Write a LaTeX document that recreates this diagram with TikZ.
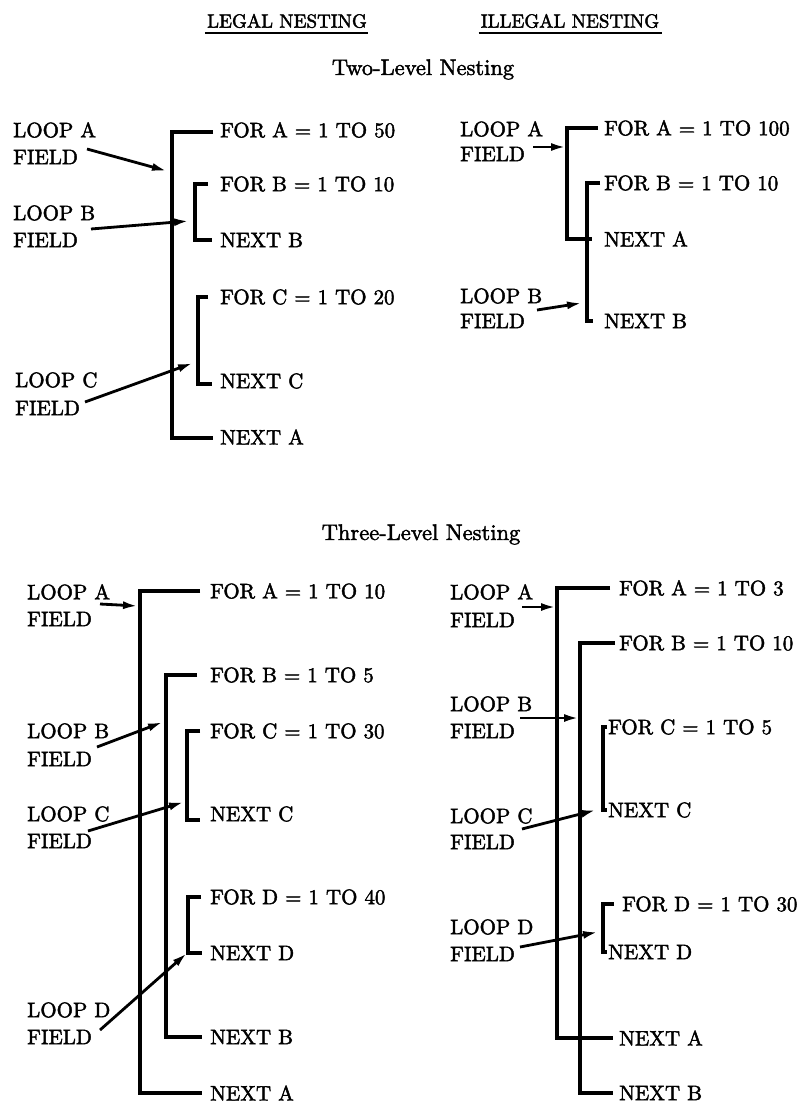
\documentclass[tikz,border=0pt]{standalone}
\usepackage{fontspec}
\usetikzlibrary{arrows.meta}
\newfontfamily\lmheavy{lmroman10-regular.otf}[FakeBold=2]
\newcommand\bodyfont{\lmheavy\fontsize{21}{25}\selectfont}
\newcommand\headfont{\lmheavy\fontsize{19}{23}\selectfont}
\newcommand\titlefont{\lmheavy\fontsize{22.5}{26}\selectfont}
% bracket: top node, bottom node, top gap, bottom gap, x coordinate
\newcommand\brkt[5]{\draw[brk] ([xshift=-#3pt]#1.west) -- (#1.west -| #5) -- (#2.west -| #5) -- ([xshift=-#4pt]#2.west);}
\begin{document}
\begin{tikzpicture}[x=1pt,y=-1pt,
  lbl/.style={anchor=west,inner sep=0pt,font=\bodyfont},
  brk/.style={line width=3.2pt},
  arr/.style={line width=2.8pt,-{Latex[length=15pt,width=8pt]}},
  hdr/.style={inner sep=0pt,font=\headfont},
  ttl/.style={anchor=base,inner sep=0pt,font=\titlefont},
  uline/.style={line width=2.4pt}]
\useasboundingbox (0,0) rectangle (807,1107);

% headers
\node[hdr] (hL) at (287,21) {LEGAL NESTING};
\node[hdr] (hI) at (570,21) {ILLEGAL NESTING};
\draw[uline] ([yshift=-5pt,xshift=-2pt]hL.south west) -- ([yshift=-5pt,xshift=1pt]hL.south east);
\draw[uline] ([yshift=-5pt,xshift=-2pt]hI.south west) -- ([yshift=-5pt,xshift=3pt]hI.south east);
\node[ttl] (t2) at (423,75) {Two-Level Nesting};
\node[ttl] (t3) at (421,540) {Three-Level Nesting};

% ---------- Two-level, legal ----------
\node[lbl] (aLA1) at (13,130) {LOOP A};
\node[lbl] (aLA2) at (13,157) {FIELD};
\node[lbl] (aLB1) at (13,213) {LOOP B};
\node[lbl] (aLB2) at (13,240) {FIELD};
\node[lbl] (aLC1) at (15,380) {LOOP C};
\node[lbl] (aLC2) at (15,408) {FIELD};
\node[lbl] (aFA) at (220,130) {FOR A = 1 TO 50};
\node[lbl] (aFB) at (220,184) {FOR B = 1 TO 10};
\node[lbl] (aNB) at (220,240) {NEXT B};
\node[lbl] (aFC) at (220,297) {FOR C = 1 TO 20};
\node[lbl] (aNC) at (220,381) {NEXT C};
\node[lbl] (aNA) at (220,437) {NEXT A};
\coordinate (aXA) at (172,0);
\coordinate (aXB) at (195,0);
\coordinate (aXC) at (198,0);
\draw[brk] ([xshift=-7pt,yshift=-2pt]aFA.west) -- ([yshift=-2pt]aFA.west -| aXA) -- ([yshift=-1pt]aNA.west -| aXA) -- ([xshift=-7pt,yshift=-1pt]aNA.west);
\brkt{aFB}{aNB}{12}{8}{aXB}
\draw[brk] ([xshift=-12pt]aFC.west) -- (aFC.west -| aXC) -- ([yshift=-3pt]aNC.west -| aXC) -- ([xshift=-8pt,yshift=-3pt]aNC.west);
\coordinate (aAs) at (87,149);  \coordinate (aAt) at (167,171);
\coordinate (aBs) at (91,229);  \coordinate (aBt) at (189,221);
\coordinate (aCs) at (85,402);  \coordinate (aCt) at (193,363);
\draw[arr] (aAs) -- (aAt);
\draw[arr] (aBs) -- (aBt);
\draw[arr] (aCs) -- (aCt);

% ---------- Two-level, illegal ----------
\node[lbl] (bLA1) at (460,129) {LOOP A};
\node[lbl] (bLA2) at (460,154) {FIELD};
\node[lbl] (bLB1) at (460,296) {LOOP B};
\node[lbl] (bLB2) at (460,321) {FIELD};
\node[lbl] (bFA) at (604,128) {FOR A = 1 TO 100};
\node[lbl] (bFB) at (604,183) {FOR B = 1 TO 10};
\node[lbl] (bNA) at (604,239) {NEXT A};
\node[lbl] (bNB) at (604,321) {NEXT B};
\coordinate (bXA) at (567,0);
\coordinate (bXB) at (587,0);
\brkt{bFA}{bNA}{6}{12}{bXA}
\brkt{bFB}{bNB}{4}{11}{bXB}
\coordinate (bAs) at (533,147); \coordinate (bAt) at (566,147);
\coordinate (bBs) at (537,310); \coordinate (bBt) at (582,303);
\draw[arr] (bAs) -- (bAt);
\draw[arr] (bBs) -- (bBt);

% ---------- Three-level, legal ----------
\node[lbl] (cLA1) at (27,592) {LOOP A};
\node[lbl] (cLA2) at (27,619) {FIELD};
\node[lbl] (cLB1) at (27,731) {LOOP B};
\node[lbl] (cLB2) at (27,759) {FIELD};
\node[lbl] (cLC1) at (27,814) {LOOP C};
\node[lbl] (cLC2) at (27,841) {FIELD};
\node[lbl] (cLD1) at (27,1010) {LOOP D};
\node[lbl] (cLD2) at (27,1037) {FIELD};
\node[lbl] (cFA) at (210,591) {FOR A = 1 TO 10};
\node[lbl] (cFB) at (210,675) {FOR B = 1 TO 5};
\node[lbl] (cFC) at (210,731) {FOR C = 1 TO 30};
\node[lbl] (cNC) at (210,814) {NEXT C};
\node[lbl] (cFD) at (210,897) {FOR D = 1 TO 40};
\node[lbl] (cND) at (210,953) {NEXT D};
\node[lbl] (cNB) at (210,1037) {NEXT B};
\node[lbl] (cNA) at (210,1093) {NEXT A};
\coordinate (cXA) at (140,0);
\coordinate (cXB) at (166,0);
\coordinate (cXC) at (187,0);
\coordinate (cXD) at (188,0);
\brkt{cFA}{cNA}{10}{8}{cXA}
\brkt{cFB}{cNB}{13}{8}{cXB}
\draw[brk] ([xshift=-10pt]cFC.west) -- (cFC.west -| cXC) -- ([yshift=-6pt]cNC.west -| cXC) -- ([xshift=-10pt,yshift=-6pt]cNC.west);
\brkt{cFD}{cND}{9}{8}{cXD}
\coordinate (cAs) at (100,604);  \coordinate (cAt) at (138,606);
\coordinate (cBs) at (97,747);   \coordinate (cBt) at (163,722);
\coordinate (cCs) at (88,831);   \coordinate (cCt) at (184,802);
\coordinate (cDs) at (100,1030); \coordinate (cDt) at (187,953);
\draw[arr] (cAs) -- (cAt);
\draw[arr] (cBs) -- (cBt);
\draw[arr] (cCs) -- (cCt);
\draw[arr] (cDs) -- (cDt);

% ---------- Three-level, illegal ----------
\node[lbl] (dLA1) at (450,592) {LOOP A};
\node[lbl] (dLA2) at (450,620) {FIELD};
\node[lbl] (dLB1) at (450,704) {LOOP B};
\node[lbl] (dLB2) at (450,731) {FIELD};
\node[lbl] (dLC1) at (450,816) {LOOP C};
\node[lbl] (dLC2) at (450,842) {FIELD};
\node[lbl] (dLD1) at (450,927) {LOOP D};
\node[lbl] (dLD2) at (450,954) {FIELD};
\node[lbl] (dFA) at (619,588) {FOR A = 1 TO 3};
\node[lbl] (dFB) at (619,643) {FOR B = 1 TO 10};
\node[lbl] (dFC) at (608,727) {FOR C = 1 TO 5};
\node[lbl] (dNC) at (608,810) {NEXT C};
\node[lbl] (dFD) at (622,904) {FOR D = 1 TO 30};
\node[lbl] (dND) at (608,952) {NEXT D};
\node[lbl] (dNA) at (619,1038) {NEXT A};
\node[lbl] (dNB) at (619,1093) {NEXT B};
\coordinate (dXA) at (557,0);
\coordinate (dXB) at (580,0);
\coordinate (dXC) at (603,0);
\coordinate (dXD) at (603,0);
\brkt{dFA}{dNA}{9}{6}{dXA}
\brkt{dFB}{dNB}{4}{6}{dXB}
\brkt{dFC}{dNC}{1}{1}{dXC}
\brkt{dFD}{dND}{8}{1}{dXD}
\coordinate (dAs) at (522,607); \coordinate (dAt) at (556,607);
\coordinate (dBs) at (520,718); \coordinate (dBt) at (579,718);
\coordinate (dCs) at (522,829); \coordinate (dCt) at (596,810);
\coordinate (dDs) at (520,947); \coordinate (dDt) at (598,932);
\draw[arr] (dAs) -- (dAt);
\draw[arr] (dBs) -- (dBt);
\draw[arr] (dCs) -- (dCt);
\draw[arr] (dDs) -- (dDt);
\end{tikzpicture}
\end{document}
